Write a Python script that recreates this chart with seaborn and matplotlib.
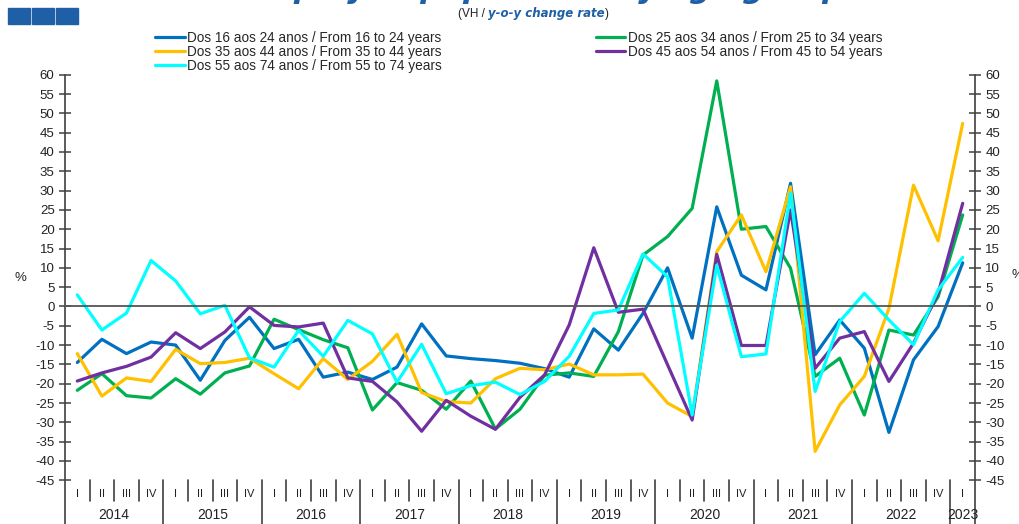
import numpy as np
import pandas as pd
import matplotlib.pyplot as plt
import matplotlib.transforms as mtransforms
from matplotlib.patches import Rectangle
from matplotlib.lines import Line2D
import seaborn as sns

# Quarterly y-o-y change rate (%), 2014 Q1 .. 2023 Q1
years = ['2014', '2015', '2016', '2017', '2018', '2019', '2020', '2021', '2022', '2023']
quarters = ['I', 'II', 'III', 'IV']

age_16_24 = [-14.5, -8.5, -12.2, -9.2, -10.0, -19.1, -8.8, -2.8, -10.9, -8.5,
             -18.3, -17.0, -18.9, -15.7, -4.5, -12.8, -13.5, -14.0, -14.7, -16.1,
             -18.3, -5.8, -11.3, -1.8, 10.0, -8.2, 25.8, 8.1, 4.3, 31.9,
             -12.5, -3.5, -10.8, -32.6, -13.8, -5.2, 11.3]
age_25_34 = [-21.7, -17.4, -23.1, -23.7, -18.7, -22.7, -17.2, -15.4, -3.3, -6.0,
             -8.6, -10.7, -26.8, -19.7, -21.7, -26.6, -19.3, -31.7, -26.6, -17.8,
             -17.2, -18.1, -6.5, 13.3, 18.1, 25.4, 58.4, 20.0, 20.7, 9.9,
             -18.1, -13.4, -28.1, -6.1, -7.4, 2.5, 23.7]
age_35_44 = [-12.2, -23.2, -18.5, -19.4, -11.1, -14.8, -14.5, -13.4, -17.4, -21.3,
             -13.5, -18.9, -14.2, -7.2, -22.3, -24.6, -25.0, -18.7, -16.0, -16.4,
             -14.9, -17.7, -17.7, -17.5, -25.0, -28.5, 14.2, 23.7, 9.0, 31.0,
             -37.5, -25.5, -18.1, -0.5, 31.4, 17.0, 47.4]
age_45_54 = [-19.3, -17.2, -15.5, -13.1, -6.8, -10.9, -6.6, -0.1, -4.9, -5.3,
             -4.3, -18.5, -19.4, -24.7, -32.3, -24.3, -28.4, -31.8, -23.5, -17.7,
             -4.8, 15.2, -1.5, -0.7, -15.1, -29.4, 13.5, -10.1, -10.1, 25.0,
             -16.0, -8.2, -6.5, -19.4, -9.5, 3.4, 26.7]
age_55_74 = [3.0, -6.1, -1.7, 11.9, 6.6, -1.9, 0.3, -13.3, -15.7, -6.2,
             -12.9, -3.6, -7.1, -19.6, -9.8, -22.6, -20.5, -19.6, -22.8, -19.4,
             -12.9, -1.8, -0.9, 13.6, 7.7, -28.1, 10.7, -13.0, -12.3, 29.3,
             -22.0, -3.9, 3.4, -3.5, -9.9, 4.3, 12.7]

labels = ['Dos 16 aos 24 anos / From 16 to 24 years',
          'Dos 25 aos 34 anos / From 25 to 34 years',
          'Dos 35 aos 44 anos / From 35 to 44 years',
          'Dos 45 aos 54 anos / From 45 to 54 years',
          'Dos 55 aos 74 anos / From 55 to 74 years']
colors = ['#0070C0', '#00B050', '#FFC000', '#7030A0', '#00FFFF']

series = [age_16_24, age_25_34, age_35_44, age_45_54, age_55_74]
n = len(age_16_24)
df = pd.concat([pd.DataFrame({'q': np.arange(n), 'value': s, 'group': lab})
                for s, lab in zip(series, labels)], ignore_index=True)

sns.set_style('white')
plt.rcParams['font.family'] = ['Liberation Sans', 'DejaVu Sans']
axis_col = '#404040'

fig = plt.figure(figsize=(10.2, 5.24), dpi=100)
ax = fig.add_axes([65 / 1020, 1 - 480.3 / 524, 910 / 1020, (480.3 - 74.7) / 524])

sns.lineplot(data=df, x='q', y='value', hue='group', hue_order=labels,
             palette=colors, linewidth=2.3, legend=False, ax=ax)

ax.set_xlim(-0.5, n - 0.5)
ax.set_ylim(-45, 60)
ax.set_xlabel('')
ax.set_ylabel('')

# y axes on both sides
yt = np.arange(-45, 61, 5)
ax.set_yticks(yt)
ax.set_yticklabels([str(v) for v in yt])
ax.tick_params(axis='y', which='major', direction='inout', length=9, width=1.1,
               color=axis_col, labelsize=9.5, labelcolor='#222222',
               left=True, right=True, labelleft=True, labelright=True, pad=3)

# zero line acts as the x axis with quarter ticks
ax.spines['bottom'].set_position(('data', 0))
ax.spines['bottom'].set_color('#555555')
ax.spines['bottom'].set_linewidth(1.3)
ax.set_xticks([])
ax.set_xticks(np.arange(0.5, n - 1, 1.0), minor=True)
ax.tick_params(axis='x', which='minor', direction='out', length=4, width=1.1,
               color=axis_col, labelbottom=False)
ax.spines['top'].set_visible(False)
for side in ['left', 'right']:
    ax.spines[side].set_visible(False)

trans = mtransforms.blended_transform_factory(ax.transData, ax.transAxes)
bot = -0.108
for xv in [-0.5, n - 0.5]:
    ax.plot([xv, xv], [1, bot], transform=trans, color=axis_col, lw=1.2,
            clip_on=False)

# category axis: quarters and years
for k in range(n):
    ax.text(k, -0.034, quarters[k % 4], transform=trans, ha='center', va='center',
            fontsize=8, color='#222222')
    if k < n - 1:
        year_edge = (k % 4 == 3)
        ax.plot([k + 0.5, k + 0.5], [0, bot if year_edge else -0.05],
                transform=trans, color=axis_col, lw=1.2, clip_on=False)
for i, y in enumerate(years):
    center = i * 4 + 1.5 if i < len(years) - 1 else n - 1
    ax.text(center, -0.085, y, transform=trans, ha='center', va='center',
            fontsize=10, color='#222222')

# % labels
fig.text(20 / 1020, 1 - 278 / 524, '%', ha='center', va='center', fontsize=9.5)
fig.text(1012 / 1020, 1 - 275 / 524, '%', ha='left', va='center', fontsize=9.5)

# legend (two columns)
handles = [Line2D([], [], color=c, lw=2.3) for c in colors]
order = [0, 2, 4, 1, 3]
fig.legend([handles[i] for i in order], [labels[i] for i in order], ncol=2,
           loc='upper left', bbox_to_anchor=(155 / 1020, 1 - 31 / 524),
           frameon=False, fontsize=9.8, handlelength=2.2, handletextpad=0.15,
           columnspacing=11.3, labelspacing=0.0, borderaxespad=0, borderpad=0)

# header: logo squares, clipped title, subtitle
for i in range(3):
    fig.patches.append(Rectangle(((8 + i * 24) / 1020, 1 - 24 / 524), 22 / 1020, 16 / 524,
                                 transform=fig.transFigure, color='#1F5FA6'))
fig.text(520 / 1020, 1 + 1.5 / 524, 'Unemployed population by age group',
         ha='center', va='baseline', fontsize=22, fontweight='bold',
         fontstyle='italic', color='#1F5FA6', family='DejaVu Sans')

t1 = fig.text(458 / 1020, 1 - 14 / 524, '(VH / ', ha='left', va='center',
              fontsize=8.5, color='#222222')
fig.canvas.draw()
r = fig.canvas.get_renderer()
bb = t1.get_window_extent(r)
t2 = fig.text(bb.x1 / 1020, 1 - 14 / 524, 'y-o-y change rate', ha='left', va='center',
              fontsize=8.5, color='#1F5FA6', fontweight='bold', fontstyle='italic',
              family='DejaVu Sans')
bb2 = t2.get_window_extent(r)
fig.text(bb2.x1 / 1020, 1 - 14 / 524, ')', ha='left', va='center',
         fontsize=8.5, color='#222222')

fig.savefig('out.png', dpi=100)
